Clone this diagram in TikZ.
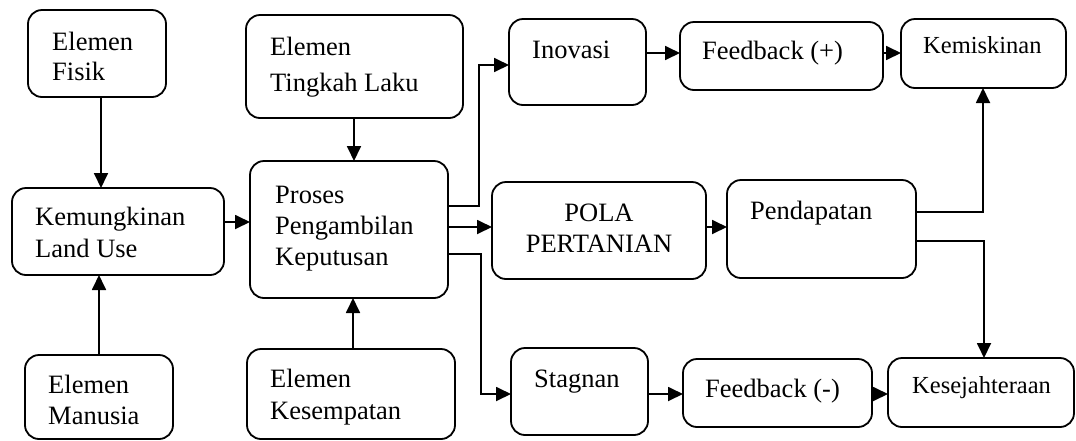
\documentclass[tikz,border=0pt]{standalone}
\usepackage{fontspec}
\setmainfont{Liberation Serif}
\usetikzlibrary{arrows.meta,fit}
\begin{document}
\begin{tikzpicture}[x=1pt,y=-1pt,
  box/.style={draw,line width=1.8pt,rounded corners=14pt,inner sep=0pt,outer sep=0pt},
  lbl/.style={anchor=base west,inner sep=0pt,align=left,font=\fontsize{26.5}{31}\selectfont},
  lbc/.style={anchor=base,inner sep=0pt,align=center,font=\fontsize{26.5}{31}\selectfont},
  lbs/.style={anchor=base west,inner sep=0pt,align=left,font=\fontsize{24.5}{30}\selectfont},
  arr/.style={line width=1.8pt,-{Triangle[length=15pt,width=14pt]}}]
\useasboundingbox (0,0) rectangle (1076,440);
% boxes
\node[box,fit={(28,10) (166,97)}] (fisik) {};
\node[box,fit={(12,188) (224,275)}] (kemung) {};
\node[box,fit={(25,355) (173,439)}] (manusia) {};
\node[box,fit={(246,15) (463,118)}] (tingkah) {};
\node[box,fit={(250,161) (448,298)}] (proses) {};
\node[box,fit={(247,349) (455,439)}] (kesempatan) {};
\node[box,fit={(509,19) (646,105)}] (inovasi) {};
\node[box,fit={(680,22) (883,90)}] (fbplus) {};
\node[box,fit={(901,19) (1066,88)}] (kemiskinan) {};
\node[box,fit={(492,182) (706,279)}] (pola) {};
\node[box,fit={(727,180) (916,278)}] (pendapatan) {};
\node[box,fit={(511,348) (648,435)}] (stagnan) {};
\node[box,fit={(683,359) (872,427)}] (fbminus) {};
\node[box,fit={(888,358) (1074,427)}] (kesejahteraan) {};
% texts (anchor = baseline of the last line)
\node[lbl,font=\fontsize{26.5}{30}\selectfont] (fisik-t) at (52,80) {Elemen\\Fisik};
\node[lbl,font=\fontsize{26.5}{32}\selectfont] (kemung-t) at (35,257) {Kemungkinan\\Land Use};
\node[lbl] (manusia-t) at (48,424) {Elemen\\Manusia};
\node[lbl,font=\fontsize{26.5}{36}\selectfont] (tingkah-t) at (270,91) {Elemen\\Tingkah Laku};
\node[lbl] (proses-t) at (275,265) {Proses\\Pengambilan\\Keputusan};
\node[lbl,font=\fontsize{26.5}{32}\selectfont] (kesempatan-t) at (270,419) {Elemen\\Kesempatan};
\node[lbl] (inovasi-t) at (532,58) {Inovasi};
\node[lbl] (fbplus-t) at (702,59) {Feedback (+)};
\node[lbs] (kemiskinan-t) at (923,53) {Kemiskinan};
\node[lbc] (pola-t) at (599,252) {POLA\\PERTANIAN};
\node[lbl] (pendapatan-t) at (750,219) {Pendapatan};
\node[lbl] (stagnan-t) at (534,387) {Stagnan};
\node[lbl] (fbminus-t) at (705,397) {Feedback (-)};
\node[lbs] (kesejahteraan-t) at (912,393) {Kesejahteraan};
% connectors
\draw[arr] (fisik.south -| 101,0) -- (kemung.north -| 101,0);
\draw[arr] (manusia.north -| 99,0) -- (kemung.south -| 99,0);
\draw[arr] (kemung.east |- 0,222) -- (proses.west |- 0,222);
\draw[arr] (tingkah.south -| 354,0) -- (proses.north -| 354,0);
\draw[arr] (kesempatan.north -| 353,0) -- (proses.south -| 353,0);
\draw[arr] (proses.east |- 0,206) -- (479,206) |- (inovasi.west |- 0,65);
\draw[arr] (proses.east |- 0,227) -- (pola.west |- 0,227);
\draw[arr] (proses.east |- 0,254) -- (481,254) |- (stagnan.west |- 0,394);
\draw[arr] (inovasi.east |- 0,53) -- (fbplus.west |- 0,53);
\draw[arr] (fbplus.east |- 0,53) -- (kemiskinan.west |- 0,53);
\draw[arr] (pola.east |- 0,227) -- (pendapatan.west |- 0,227);
\draw[arr] (pendapatan.east |- 0,212) -| (kemiskinan.south -| 983,0);
\draw[arr] (pendapatan.east |- 0,241) -| (kesejahteraan.north -| 984,0);
\draw[arr] (stagnan.east |- 0,394) -- (fbminus.west |- 0,394);
\draw[arr] (fbminus.east |- 0,394) -- (kesejahteraan.west |- 0,394);
\end{tikzpicture}
\end{document}
